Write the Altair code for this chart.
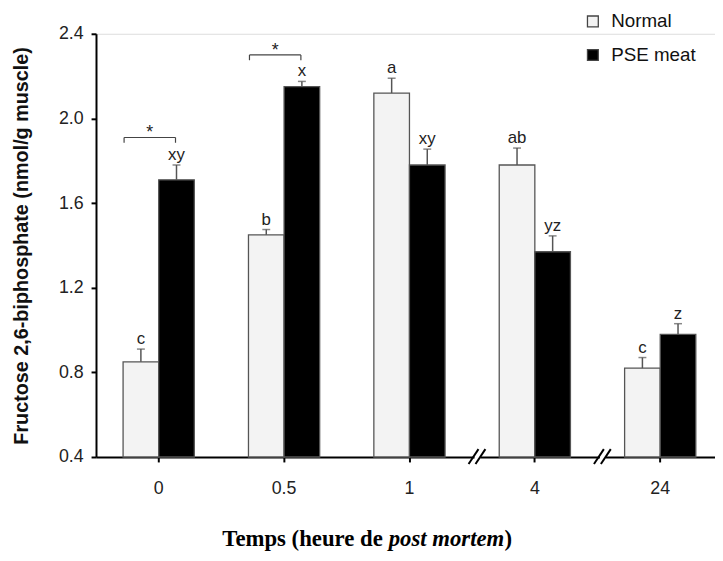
import altair as alt
import pandas as pd

# ---------------- data ----------------
times = ["0", "0.5", "1", "4", "24"]
groups = ["Normal", "PSE meat"]
normal_vals = [0.85, 1.45, 2.12, 1.78, 0.82]
normal_err = [0.06, 0.025, 0.07, 0.08, 0.05]
normal_letters = ["c", "b", "a", "ab", "c"]
pse_vals = [1.71, 2.15, 1.78, 1.37, 0.98]
pse_err = [0.07, 0.025, 0.075, 0.075, 0.05]
pse_letters = ["xy", "x", "xy", "yz", "z"]

bracket_times = ["0", "0.5"]
bracket_level = [1.91, 2.30]
break_times = ["4", "24"]
y_ticks = [0.4, 0.8, 1.2, 1.6, 2.0, 2.4]

rows = []
for i, t in enumerate(times):
    rows.append({"time": t, "grp": "Normal", "val": normal_vals[i], "err": normal_err[i],
                 "top": normal_vals[i] + normal_err[i], "lab": normal_letters[i]})
    rows.append({"time": t, "grp": "PSE meat", "val": pse_vals[i], "err": pse_err[i],
                 "top": pse_vals[i] + pse_err[i], "lab": pse_letters[i]})
df = pd.DataFrame(rows)
df["base"] = 0.4

br = pd.DataFrame({"time": bracket_times, "lev": bracket_level})
br["low"] = br["lev"] - 0.025
br["star"] = br["lev"] + 0.03
brk = pd.DataFrame({"time": break_times, "base": [0.4, 0.4]})

W, H = 626, 428
SANS = "Liberation Sans"

xscale = alt.Scale(domain=times, range=[0, 634], paddingInner=0.432, paddingOuter=0.216)
yscale = alt.Scale(domain=[0.4, 2.4], zero=False, nice=False)

x_enc = alt.X("time:N", scale=xscale, sort=times,
              axis=alt.Axis(title=None, labelAngle=0, labelFontSize=18, labelFont=SANS,
                            labelColor="#222", tickSize=5, tickWidth=2, tickColor="#000",
                            domainColor="#000", domainWidth=2, labelPadding=18))
xo_enc = alt.XOffset("grp:N", scale=alt.Scale(domain=groups, paddingInner=0, paddingOuter=0))

base = alt.Chart(df)

bars = base.mark_bar(stroke="#555", strokeWidth=1.3).encode(
    x=x_enc,
    xOffset=xo_enc,
    y=alt.Y("val:Q", scale=yscale,
            axis=alt.Axis(title="Fructose 2,6-biphosphate (nmol/g muscle)", values=y_ticks,
                          format=".1f", labelFontSize=18, labelFont=SANS, labelColor="#222",
                          tickSize=5, tickWidth=2, tickColor="#000", domainColor="#000",
                          domainWidth=2, labelPadding=8, grid=False,
                          titleFont=SANS, titleFontSize=20, titleFontWeight="bold",
                          titleColor="#111", titlePadding=27)),
    y2=alt.Y2("base:Q"),
    fill=alt.Fill("grp:N", scale=alt.Scale(domain=groups, range=["#f3f3f3", "#000000"]),
                  legend=alt.Legend(title=None, orient="none", legendX=493, legendY=-22,
                                    symbolType="square", symbolSize=120,
                                    symbolStrokeColor="#444", symbolStrokeWidth=1.3,
                                    labelFontSize=19, labelFont=SANS, labelColor="#111",
                                    rowPadding=14, labelOffset=9)),
)

err_line = base.mark_rule(color="#555", strokeWidth=1.5).encode(
    x=alt.X("time:N", scale=xscale, sort=times),
    xOffset=xo_enc,
    y=alt.Y("val:Q", scale=yscale),
    y2="top:Q",
)
err_cap = base.mark_tick(color="#555", thickness=1.5, size=8).encode(
    x=alt.X("time:N", scale=xscale, sort=times),
    xOffset=xo_enc,
    y=alt.Y("top:Q", scale=yscale),
)
letters = base.mark_text(baseline="bottom", dy=-1, fontSize=17, font=SANS, color="#222").encode(
    x=alt.X("time:N", scale=xscale, sort=times),
    xOffset=xo_enc,
    y=alt.Y("top:Q", scale=yscale),
    text="lab:N",
)

bchart = alt.Chart(br)
b_h = bchart.mark_rule(color="#444", strokeWidth=1.2, xOffset=-35, x2Offset=17).encode(
    x=alt.X("time:N", scale=xscale, sort=times), x2="time:N",
    y=alt.Y("lev:Q", scale=yscale))
b_l = bchart.mark_rule(color="#444", strokeWidth=1.2, xOffset=-35).encode(
    x=alt.X("time:N", scale=xscale, sort=times),
    y=alt.Y("lev:Q", scale=yscale), y2="low:Q")
b_r = bchart.mark_rule(color="#444", strokeWidth=1.2, xOffset=17).encode(
    x=alt.X("time:N", scale=xscale, sort=times),
    y=alt.Y("lev:Q", scale=yscale), y2="low:Q")
b_star = bchart.mark_text(text="*", fontSize=18, font=SANS, color="#222", baseline="middle",
                          xOffset=-9, yOffset=2).encode(
    x=alt.X("time:N", scale=xscale, sort=times),
    y=alt.Y("star:Q", scale=yscale))

kchart = alt.Chart(brk)
gap = kchart.mark_rule(color="white", strokeWidth=4, xOffset=-61, x2Offset=-55).encode(
    x=alt.X("time:N", scale=xscale, sort=times), x2="time:N",
    y=alt.Y("base:Q", scale=yscale))
s1 = kchart.mark_rule(color="#000", strokeWidth=2, xOffset=-67, x2Offset=-57,
                      yOffset=7, y2Offset=-8).encode(
    x=alt.X("time:N", scale=xscale, sort=times), x2="time:N",
    y=alt.Y("base:Q", scale=yscale), y2="base:Q")
s2 = kchart.mark_rule(color="#000", strokeWidth=2, xOffset=-60, x2Offset=-50,
                      yOffset=7, y2Offset=-8).encode(
    x=alt.X("time:N", scale=xscale, sort=times), x2="time:N",
    y=alt.Y("base:Q", scale=yscale), y2="base:Q")

# x-axis title with italic part
title_parts = ["Temps (heure de", "post mortem", ")"]
SERIF = "Liberation Serif"
t1 = alt.Chart(pd.DataFrame({"t": [title_parts[0]]})).mark_text(
    font=SERIF, fontSize=23, fontWeight="bold", align="right", baseline="alphabetic",
    color="#000").encode(x=alt.value(290), y=alt.value(518), text="t:N")
t2 = alt.Chart(pd.DataFrame({"t": [title_parts[1]]})).mark_text(
    font=SERIF, fontSize=23, fontWeight="bold", fontStyle="italic", align="left",
    baseline="alphabetic", color="#000").encode(x=alt.value(296), y=alt.value(518), text="t:N")
t3 = alt.Chart(pd.DataFrame({"t": [title_parts[2]]})).mark_text(
    font=SERIF, fontSize=23, fontWeight="bold", align="left", baseline="alphabetic",
    color="#000").encode(x=alt.value(413), y=alt.value(518), text="t:N")

chart = alt.layer(
    bars, err_line, err_cap, letters, b_h, b_l, b_r, b_star, gap, s1, s2, t1, t2, t3
).properties(
    width=W, height=H, autosize="none",
    padding={"left": 89, "top": 23, "right": 0, "bottom": 94},
).configure_view(stroke=None).configure(background="white")

chart.save("out.html", embed_options={"renderer": "svg", "actions": False})
